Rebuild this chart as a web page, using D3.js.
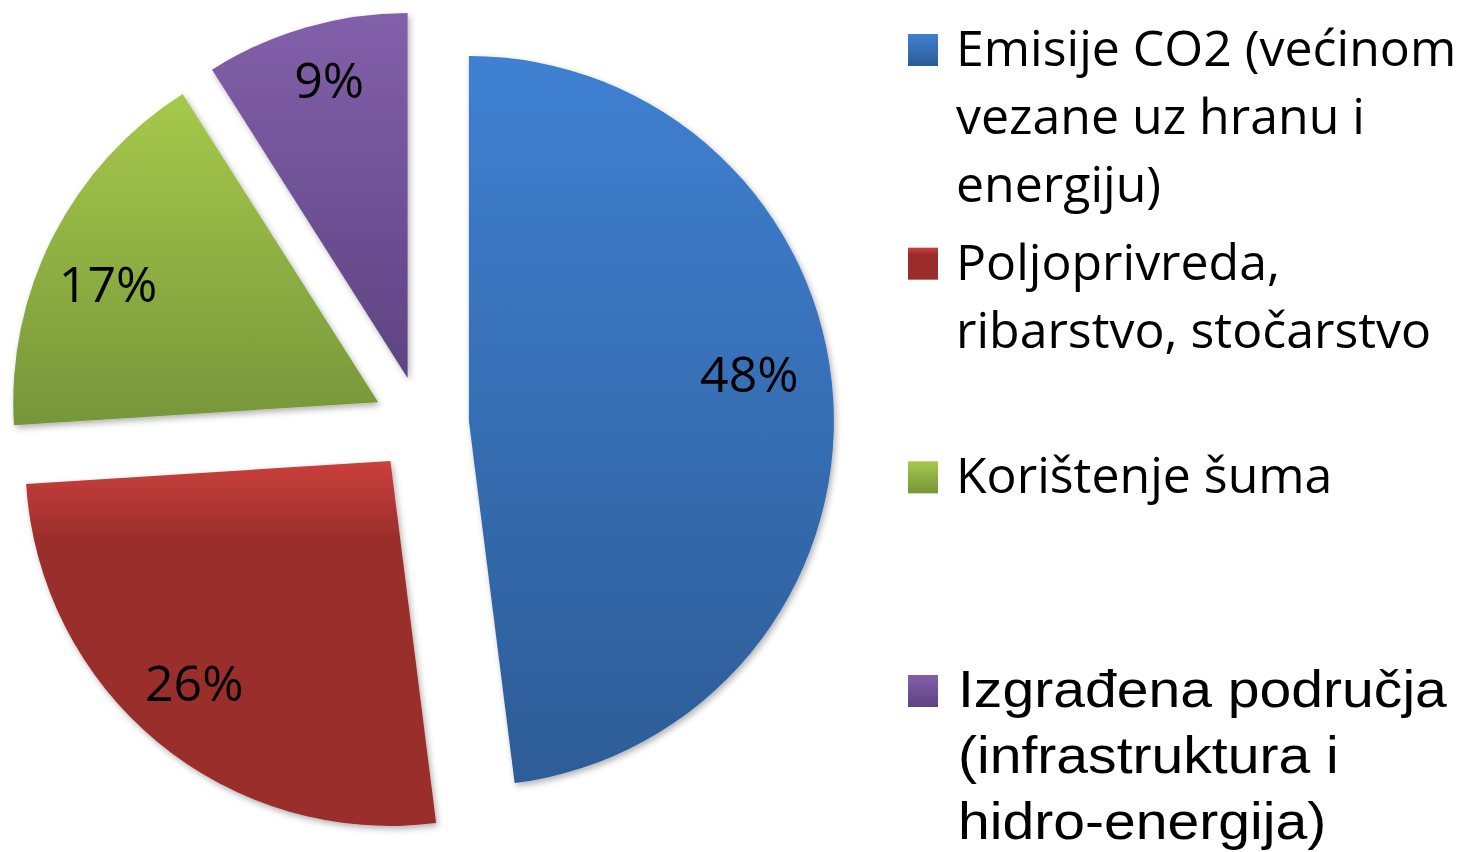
<!DOCTYPE html>
<html>
<head>
<meta charset="utf-8">
<script src="https://cdn.jsdelivr.net/npm/d3@7"></script>
<style>
  body { margin: 0; background: #fff; }
  svg { display: block; }
</style>
</head>
<body>
<div id="visualContainer"></div>
<script>
// data
var categories = [
    "Emisije CO2 (većinom vezane uz hranu i energiju)",
    "Poljoprivreda, ribarstvo, stočarstvo",
    "Korištenje šuma",
    "Izgrađena područja (infrastruktura i hidro-energija)"
];
var values = [48, 26, 17, 9];
// legend text as it is wrapped in the picture
var legendLines = [
    ["Emisije CO2 (većinom", "vezane uz hranu i", "energiju)"],
    ["Poljoprivreda,", "ribarstvo, stočarstvo"],
    ["Korištenje šuma"],
    ["Izgrađena područja", "(infrastruktura i", "hidro-energija)"]
];

// styles
var lightColors = ["#3f80d1", "#cb403c", "#a6c94b", "#8260aa"];
var darkColors = ["#2d5c96", "#9a2d2b", "#76963a", "#5e4381"];
// small nudges so labels sit where excel put them (best fit)
var labelNudge = [[-11, -28], [-10, -2], [-10, 15], [3, -17]];

var width = 1470, height = 852;
var cx = 421, cy = 424;
var radius = 365;
var explode = 48;

var svgCanvas = d3.select("#visualContainer")
    .append("svg")
    .attr("width", width)
    .attr("height", height);

var defs = svgCanvas.append("defs");

// soft shadow under the slices
var shadow = defs.append("filter")
    .attr("id", "shadow")
    .attr("x", "-10%").attr("y", "-10%")
    .attr("width", "130%").attr("height", "130%");
shadow.append("feDropShadow")
    .attr("dx", 2)
    .attr("dy", 3)
    .attr("stdDeviation", 3)
    .attr("flood-color", "#000")
    .attr("flood-opacity", 0.3);

// vertical gradient per slice
categories.forEach(function(c, i) {
    var g = defs.append("linearGradient")
        .attr("id", "grad" + i)
        .attr("x1", 0).attr("y1", 0)
        .attr("x2", 0).attr("y2", 1);
    g.append("stop").attr("offset", "0%").attr("stop-color", lightColors[i]);
    if (i == 1) {
        // red goes dark quickly
        g.append("stop").attr("offset", "22%").attr("stop-color", darkColors[i]);
    }
    g.append("stop").attr("offset", "100%").attr("stop-color", darkColors[i]);
});

var total = d3.sum(values);

var pie = d3.pie()
    .sort(null)
    .value(function(d) { return d; });

var arc = d3.arc()
    .innerRadius(0)
    .outerRadius(radius);

var labelArc = d3.arc()
    .innerRadius(radius * 0.8)
    .outerRadius(radius * 0.8);

var arcs = pie(values);

var pieGroup = svgCanvas.append("g")
    .attr("transform", "translate(" + cx + "," + cy + ")");

var slices = pieGroup.selectAll(".slice")
    .data(arcs)
    .enter()
    .append("g")
    .attr("class", "slice")
    .attr("transform", function(d) {
        var mid = (d.startAngle + d.endAngle) / 2;
        return "translate(" + (Math.sin(mid) * explode) + "," + (-Math.cos(mid) * explode) + ")";
    });

slices.append("path")
    .attr("d", arc)
    .attr("fill", function(d, i) { return "url(#grad" + i + ")"; })
    .attr("filter", "url(#shadow)");

slices.append("text")
    .attr("transform", function(d, i) {
        var c = labelArc.centroid(d);
        return "translate(" + (c[0] + labelNudge[i][0]) + "," + (c[1] + labelNudge[i][1]) + ")";
    })
    .attr("text-anchor", "middle")
    .attr("dy", "0.35em")
    .style("font-family", "'Open Sans', sans-serif")
    .style("font-size", "50px")
    .style("fill", "#000")
    .text(function(d) { return Math.round(d.value / total * 100) + "%"; });

// legend
var legendY = d3.scaleLinear()
    .domain([0, categories.length - 1])
    .range([66, 707]);

var legend = svgCanvas.selectAll(".legendItem")
    .data(categories)
    .enter()
    .append("g")
    .attr("class", "legendItem")
    .attr("transform", function(d, i) { return "translate(908," + legendY(i) + ")"; });

legend.append("rect")
    .attr("x", 0)
    .attr("y", -32)
    .attr("width", 30)
    .attr("height", 32)
    .attr("fill", function(d, i) { return "url(#grad" + i + ")"; });

// first three entries are calibri-like, the last one is arial (and a bit wider)
legend.append("text")
    .attr("transform", function(d, i) {
        return i == 3 ? "translate(50,0) scale(1.12,1)" : "translate(48,0)";
    })
    .style("font-family", function(d, i) {
        return i == 3 ? "'Liberation Sans', Arial, sans-serif" : "'Open Sans', sans-serif";
    })
    .style("font-size", function(d, i) { return i == 3 ? "51px" : "50px"; })
    .style("fill", "#000")
    .selectAll("tspan")
    .data(function(d, i) {
        return legendLines[i].map(function(t) { return { t: t, step: i == 3 ? 66 : 68 }; });
    })
    .enter()
    .append("tspan")
    .attr("x", 0)
    .attr("dy", function(d, j) { return j == 0 ? 0 : d.step; })
    .text(function(d) { return d.t; });
</script>
</body>
</html>
